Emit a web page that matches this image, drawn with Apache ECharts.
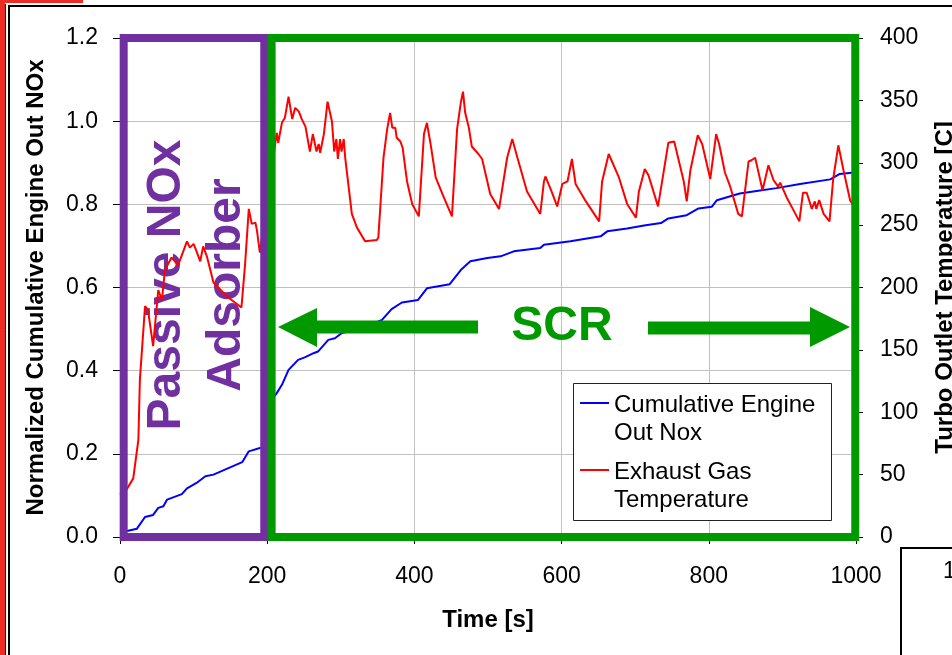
<!DOCTYPE html>
<html>
<head>
<meta charset="utf-8">
<script src="https://cdn.jsdelivr.net/npm/echarts@6/dist/echarts.min.js"></script>
<style>
  html, body { margin: 0; padding: 0; background: #fff; }
  #main { width: 952px; height: 655px; }
</style>
</head>
<body>
<div id="main"></div>
<script>
// time axis ticks
var timeTicks = [0, 200, 400, 600, 800, 1000];

// cumulative engine out NOx (left axis)
var noxTime = [0, 11, 23, 34, 45, 52, 59, 64, 84, 91, 104, 116, 127, 166, 175, 190, 200, 206, 213, 220,
  229, 242, 251, 263, 269, 283, 292, 301, 320, 340, 356, 369, 383, 405, 417, 448, 463, 476, 499, 517,
  535, 571, 576, 612, 653, 662, 689, 712, 735, 745, 770, 786, 804, 811, 842, 865, 892, 924, 965, 978,
  994, 1000];
var noxValue = [0.015, 0.015, 0.02, 0.048, 0.053, 0.07, 0.074, 0.09, 0.103, 0.117, 0.13, 0.146, 0.15, 0.18, 0.206, 0.214, 0.22, 0.33, 0.346, 0.366,
  0.402, 0.426, 0.432, 0.442, 0.446, 0.474, 0.478, 0.49, 0.5, 0.51, 0.522, 0.548, 0.564, 0.57, 0.598, 0.608, 0.642, 0.663, 0.671, 0.675,
  0.687, 0.695, 0.703, 0.711, 0.723, 0.735, 0.742, 0.749, 0.755, 0.766, 0.774, 0.79, 0.794, 0.81, 0.826, 0.832, 0.839, 0.849, 0.86, 0.873,
  0.876, 0.877];

// exhaust gas temperature (right axis)
var tempTime = [0, 9, 18, 25, 27, 34, 38, 45, 52, 57, 61, 70, 79, 91, 95, 100, 104, 109, 113, 118,
  127, 145, 165, 170, 175, 179, 184, 186, 190, 200, 213, 215, 220, 224, 229, 234, 238, 243, 247, 252,
  258, 262, 267, 270, 272, 277, 282, 288, 291, 294, 296, 299, 301, 304, 306, 315, 322, 333, 349, 351,
  358, 363, 367, 370, 374, 376, 381, 384, 390, 397, 406, 413, 417, 422, 429, 438, 451, 458, 463, 466,
  469, 474, 478, 487, 492, 503, 515, 526, 533, 540, 553, 571, 576, 578, 587, 594, 601, 608, 614, 619,
  633, 651, 655, 664, 678, 689, 701, 705, 713, 718, 731, 736, 745, 753, 766, 770, 775, 785, 791, 802,
  810, 814, 822, 829, 840, 845, 854, 858, 863, 873, 881, 888, 894, 897, 906, 915, 923, 928, 933, 940,
  944, 946, 950, 956, 964, 969, 976, 983, 992, 1000];
var tempValue = [34, 38, 47, 78, 126, 185, 182, 153, 198, 190, 214, 224, 218, 237, 232, 235, 229, 221, 233, 225,
  204, 193, 184, 219, 263, 251, 252, 246, 228, 270, 324, 316, 332, 336, 353, 335, 344, 341, 335, 329,
  309, 323, 309, 315, 308, 323, 349, 333, 309, 319, 303, 319, 309, 319, 304, 259, 248, 237, 238, 240,
  304, 327, 340, 328, 328, 320, 317, 312, 285, 267, 257, 323, 332, 315, 288, 275, 257, 327, 348, 357,
  340, 328, 313, 307, 303, 275, 263, 304, 319, 304, 277, 259, 285, 289, 276, 265, 283, 285, 303, 283,
  269, 253, 285, 307, 288, 267, 256, 277, 295, 290, 265, 283, 316, 317, 285, 269, 294, 322, 315, 287,
  323, 315, 292, 281, 259, 257, 301, 302, 304, 278, 298, 286, 281, 284, 272, 262, 253, 276, 276, 263,
  269, 263, 270, 259, 253, 287, 314, 294, 270, 262];

// zones (time ranges) framed on the chart
var passiveZone = [5, 196];
var scrZone = [206, 999];

var seriesNames = ['Cumulative Engine Out Nox', 'Exhaust Gas Temperature'];
var legendText = {
  'Cumulative Engine Out Nox': 'Cumulative Engine\nOut Nox',
  'Exhaust Gas Temperature': 'Exhaust Gas\nTemperature'
};

var FONT = '"Liberation Sans", Arial, sans-serif';
var PURPLE = '#7030a0';
var GREEN = '#009900';

// legend icon: a short bar level with the first text line
var legendIcon = 'path://M0,0L29,0L29,0Z M0,11L29,11L29,13L0,13Z M0,56L29,56L29,56Z';

function pairs(xs, ys) {
  return xs.map(function (x, i) { return [x, ys[i]]; });
}

var chart = echarts.init(document.getElementById('main'));

var option = {
  backgroundColor: '#fff',
  animation: false,
  textStyle: { fontFamily: FONT },
  grid: { left: 120, right: 96, top: 38, bottom: 118, containLabel: false, outerBoundsMode: 'none' },
  legend: {
    orient: 'vertical',
    left: 580,
    top: 391,
    padding: 0,
    itemWidth: 29,
    itemHeight: 56,
    itemGap: 11,
    icon: legendIcon,
    symbolKeepAspect: false,
    itemStyle: { borderWidth: 0 },
    data: seriesNames,
    formatter: function (name) { return legendText[name]; },
    textStyle: { fontSize: 24, lineHeight: 28, color: '#000', fontFamily: FONT },
    z: 6
  },
  xAxis: {
    type: 'value',
    min: timeTicks[0],
    max: timeTicks[timeTicks.length - 1],
    interval: 200,
    name: 'Time [s]',
    nameLocation: 'middle',
    nameGap: 71,
    nameTextStyle: { fontSize: 24, fontWeight: 'bold', color: '#000', fontFamily: FONT },
    axisLine: { lineStyle: { color: '#000', width: 1 } },
    axisTick: { length: 7, lineStyle: { color: '#000' } },
    axisLabel: { fontSize: 23, color: '#000', margin: 28, fontFamily: FONT,
      formatter: function (v) { return String(v); } },
    splitLine: { lineStyle: { color: '#c0c0c0', width: 1 } }
  },
  yAxis: [{
    type: 'value',
    min: 0,
    max: 1.2,
    interval: 0.2,
    name: 'Normalized Cumulative Engine Out NOx',
    nameLocation: 'middle',
    nameGap: 72,
    nameTextStyle: { fontSize: 24, fontWeight: 'bold', color: '#000', fontFamily: FONT },
    axisLine: { show: true, lineStyle: { color: '#000', width: 1 } },
    axisTick: { show: true, length: 7, lineStyle: { color: '#000' } },
    axisLabel: { fontSize: 23, color: '#000', margin: 22, fontFamily: FONT,
      formatter: function (v) { return v.toFixed(1); } },
    splitLine: { lineStyle: { color: '#c0c0c0', width: 1 } }
  }, {
    type: 'value',
    position: 'right',
    min: 0,
    max: 400,
    interval: 50,
    name: 'Turbo Outlet Temperature [C]',
    nameLocation: 'middle',
    nameGap: 77,
    nameTextStyle: { fontSize: 24, fontWeight: 'bold', color: '#000', fontFamily: FONT },
    axisLine: { show: true, lineStyle: { color: '#000', width: 1 } },
    axisTick: { show: true, length: 7, lineStyle: { color: '#000' } },
    axisLabel: { fontSize: 23, color: '#000', margin: 24, fontFamily: FONT,
      formatter: function (v) { return String(v); } },
    splitLine: { show: false }
  }],
  series: [{
    name: seriesNames[0],
    type: 'line',
    yAxisIndex: 0,
    data: pairs(noxTime, noxValue),
    symbol: 'none',
    lineStyle: { color: '#0000ff', width: 2 },
    itemStyle: { color: '#0000ff' },
    z: 2
  }, {
    name: seriesNames[1],
    type: 'line',
    yAxisIndex: 1,
    data: pairs(tempTime, tempValue),
    symbol: 'none',
    lineStyle: { color: '#ff0000', width: 2 },
    itemStyle: { color: '#ff0000' },
    z: 2
  }, {
    // carrier for the zone frames
    type: 'line',
    yAxisIndex: 0,
    data: [],
    clip: false,
    z: 5,
    markArea: {
      silent: true,
      z: 5,
      label: { show: false },
      data: [
        [{ xAxis: passiveZone[0], yAxis: 0, itemStyle: { color: 'rgba(0,0,0,0)', borderColor: PURPLE, borderWidth: 8 } },
         { xAxis: passiveZone[1], yAxis: 1.2 }],
        [{ xAxis: scrZone[0], yAxis: 0, itemStyle: { color: 'rgba(0,0,0,0)', borderColor: GREEN, borderWidth: 8 } },
         { xAxis: scrZone[1], yAxis: 1.2 }]
      ]
    }
  }],
  graphic: [
    // slide frame decoration
    { type: 'rect', shape: { x: 0, y: 0, width: 5, height: 655 }, style: { fill: '#ee2b24' }, z: 10 },
    { type: 'rect', shape: { x: 0, y: 0, width: 83, height: 3 }, style: { fill: '#ee2b24' }, z: 10 },
    { type: 'line', shape: { x1: 5.5, y1: 4, x2: 5.5, y2: 655 }, style: { stroke: '#000', lineWidth: 1 }, z: 10 },
    { type: 'rect', shape: { x: 9, y: 6, width: 960, height: 700 }, style: { fill: 'none', stroke: '#000', lineWidth: 2 }, z: 10 },
    { type: 'rect', shape: { x: 901, y: 548, width: 80, height: 120 }, style: { fill: '#fff', stroke: '#000', lineWidth: 2 }, z: 10 },
    { type: 'text', x: 943, y: 560, style: { text: '1', font: '23px ' + FONT, fill: '#000' }, z: 10 },
    // legend box
    { type: 'rect', shape: { x: 573.5, y: 383.5, width: 258, height: 137 }, style: { fill: '#fff', stroke: '#222', lineWidth: 1 }, z: 3 },
    // zone captions
    { type: 'text', x: 197, y: 285, rotation: Math.PI / 2, z: 1,
      style: { text: 'Passive NOx\nAdsorber', font: 'bold 48px ' + FONT, lineHeight: 60, fill: PURPLE, align: 'center', verticalAlign: 'middle' } },
    { type: 'text', x: 562, y: 327, z: 6,
      style: { text: 'SCR', font: 'bold 48px ' + FONT, fill: GREEN, align: 'center', verticalAlign: 'middle' } },
    // arrows
    { type: 'polygon', z: 6, shape: { points: [[278, 327], [317, 308], [317, 320.5], [478, 320.5], [478, 333.5], [317, 333.5], [317, 347]] }, style: { fill: GREEN } },
    { type: 'polygon', z: 6, shape: { points: [[648, 321.5], [810, 321.5], [810, 307], [850, 327], [810, 347], [810, 334.5], [648, 334.5]] }, style: { fill: GREEN } }
  ]
};

chart.setOption(option);
</script>
</body>
</html>
